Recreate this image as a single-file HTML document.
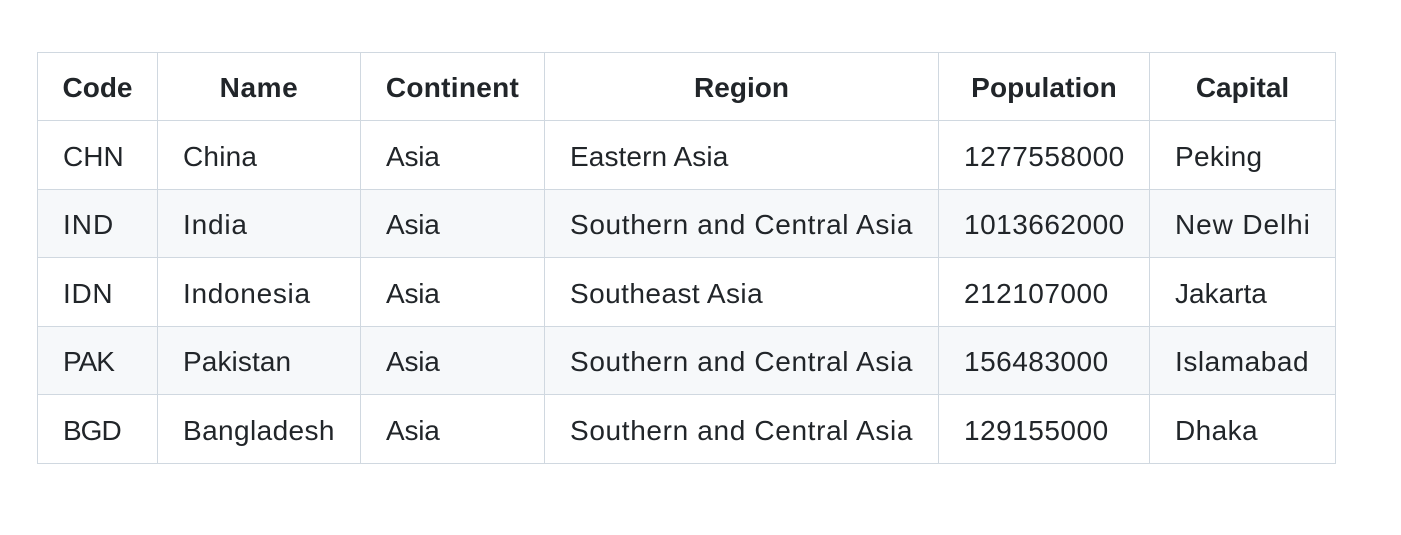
<!DOCTYPE html>
<html lang="en">
<head>
<meta charset="utf-8">
<title>Country table</title>
<style>
html,body{margin:0;padding:0;background:#fff;width:1401px;height:535px;overflow:hidden}
body{font-family:"Liberation Sans","Noto Sans CJK SC",sans-serif;color:#212529}
table{position:absolute;left:37px;top:52px;width:1299px;table-layout:fixed;border-collapse:collapse;font-size:28px;line-height:34px}
th,td{border:1px solid #d0d8e0;padding:4px 0 0 25px;text-align:left;white-space:nowrap;vertical-align:middle}
th{font-weight:700;text-align:center;padding:2px 0 0}
tbody tr:nth-child(even) td{background:#f6f8fa;padding-top:2px}
.stripe{position:absolute;left:38px;width:1297px;height:67px;background:#f6f8fa}
</style>
</head>
<body>
<div class="stripe" style="top:190px"></div>
<div class="stripe" style="top:327px"></div>
<table>
<colgroup><col style="width:120px"><col style="width:203px"><col style="width:184px"><col style="width:394px"><col style="width:211px"><col style="width:186px"></colgroup>
<thead>
<tr style="height:68px">
<th>Code</th>
<th style="letter-spacing:.6px">Name</th>
<th style="letter-spacing:.3px">Continent</th>
<th>Region</th>
<th style="letter-spacing:.1px">Population</th>
<th>Capital</th>
</tr>
</thead>
<tbody>
<tr style="height:69px">
<td>CHN</td><td style="letter-spacing:.2px">China</td><td style="letter-spacing:-.2px">Asia</td><td style="letter-spacing:.1px">Eastern Asia</td><td style="letter-spacing:.5px">1277558000</td><td style="letter-spacing:.3px">Peking</td>
</tr>
<tr style="height:68px">
<td style="letter-spacing:1px">IND</td><td style="letter-spacing:.8px">India</td><td style="letter-spacing:-.2px">Asia</td><td style="letter-spacing:.65px">Southern and Central Asia</td><td style="letter-spacing:.5px">1013662000</td><td style="letter-spacing:.9px">New Delhi</td>
</tr>
<tr style="height:69px">
<td style="letter-spacing:.7px">IDN</td><td style="letter-spacing:.7px">Indonesia</td><td style="letter-spacing:-.2px">Asia</td><td style="letter-spacing:.45px">Southeast Asia</td><td style="letter-spacing:.5px">212107000</td><td>Jakarta</td>
</tr>
<tr style="height:68px">
<td style="letter-spacing:-1px">PAK</td><td style="letter-spacing:.1px">Pakistan</td><td style="letter-spacing:-.2px">Asia</td><td style="letter-spacing:.65px">Southern and Central Asia</td><td style="letter-spacing:.5px">156483000</td><td style="letter-spacing:.55px">Islamabad</td>
</tr>
<tr style="height:69px">
<td style="letter-spacing:-1px">BGD</td><td style="letter-spacing:.4px">Bangladesh</td><td style="letter-spacing:-.2px">Asia</td><td style="letter-spacing:.65px">Southern and Central Asia</td><td style="letter-spacing:.5px">129155000</td><td style="letter-spacing:.4px">Dhaka</td>
</tr>
</tbody>
</table>
</body>
</html>
